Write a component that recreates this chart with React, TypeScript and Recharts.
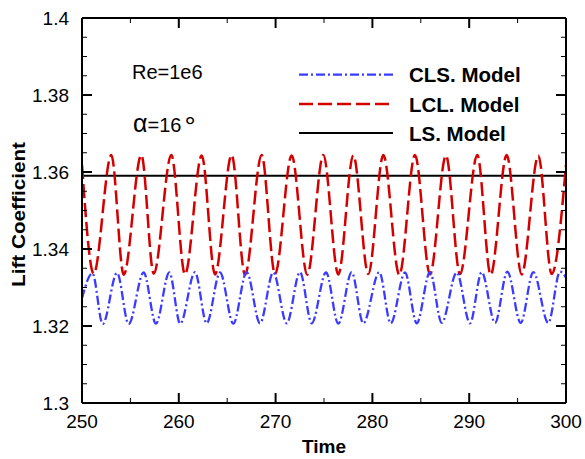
import React from 'react';
import { LineChart, Line, XAxis, YAxis } from 'recharts';

// ---- Data ----
const xTicks = [250, 255, 260, 265, 270, 275, 280, 285, 290, 295, 300];
const yTicks = [1.3, 1.305, 1.31, 1.315, 1.32, 1.325, 1.33, 1.335, 1.34, 1.345, 1.35, 1.355, 1.36, 1.365, 1.37, 1.375, 1.38, 1.385, 1.39, 1.395, 1.4];

// LCL model: start, alternating troughs/peaks, end
const lclTime = [250, 251.21, 253.03, 254.31, 256.13, 257.41, 259.23, 260.64, 262.37, 263.74, 265.46, 266.84, 268.56, 269.94, 271.66, 273.27, 274.93, 276.48, 278.03, 279.58, 281.13, 282.78, 284.4, 285.95, 287.6, 289.05, 290.84, 292.22, 293.87, 295.42, 297.14, 298.52, 300];
const lclValue = [1.3618, 1.3336, 1.3644, 1.3333, 1.3644, 1.3336, 1.3644, 1.3334, 1.3643, 1.3334, 1.3644, 1.3333, 1.3644, 1.3335, 1.3643, 1.3333, 1.3644, 1.3334, 1.3643, 1.3335, 1.3644, 1.3333, 1.3644, 1.3334, 1.3643, 1.3335, 1.3644, 1.3333, 1.3644, 1.3334, 1.3643, 1.3335, 1.3618];

// CLS model
const clsTime = [250, 251.08, 252.14, 253.62, 254.82, 256.37, 257.64, 259.02, 260.15, 261.67, 262.88, 264.26, 265.63, 267.01, 268.39, 269.76, 271.15, 272.52, 273.73, 275.21, 276.48, 277.86, 279.06, 280.71, 281.89, 283.37, 284.58, 285.95, 287.16, 288.71, 290.08, 291.29, 292.67, 293.94, 295.32, 296.62, 298.17, 299.38, 300];
const clsValue = [1.3272, 1.3337, 1.3205, 1.3338, 1.3205, 1.3339, 1.3206, 1.3339, 1.3206, 1.334, 1.3207, 1.3339, 1.3206, 1.334, 1.3207, 1.3339, 1.3207, 1.334, 1.3207, 1.3339, 1.3206, 1.334, 1.3207, 1.334, 1.3207, 1.3339, 1.3207, 1.334, 1.3208, 1.3339, 1.3207, 1.334, 1.3208, 1.3341, 1.3208, 1.334, 1.3208, 1.3341, 1.3326];

// LS model
const lsTime = [250, 300];
const lsValue = [1.359, 1.359];

const legendNames = ['CLS. Model', 'LCL. Model', 'LS. Model'];
const seriesColors = ['#3b3bff', '#d40000', '#000000'];
const seriesDash = ['9 3 2 3', '14 5', undefined];

const zip = (ts: number[], vs: number[]) => ts.map((t, i) => ({ t, v: vs[i] }));
const lclData = zip(lclTime, lclValue);
const clsData = zip(clsTime, clsValue);
const lsData = zip(lsTime, lsValue);

const FONT = '"Liberation Sans", Arial, Helvetica, sans-serif';

const isMajorX = (v: number) => Math.round(v) % 10 === 0;
const isMajorY = (v: number) => Math.round(v * 1000) % 20 === 0;
const fmtY = (v: number) => String(Number(v.toFixed(2)));

const BottomTick = (p: any) => {
  const v = p.payload.value;
  const major = isMajorX(v);
  return (
    <g>
      <line x1={p.x} x2={p.x} y1={p.y} y2={p.y - (major ? 10 : 5)} stroke="#000" strokeWidth={major ? 2 : 1} />
      {major && (
        <text x={p.x} y={p.y + 25} textAnchor="middle" fontFamily={FONT} fontSize={19} fill="#000">{v}</text>
      )}
    </g>
  );
};
const TopTick = (p: any) => {
  const v = p.payload.value;
  const major = isMajorX(v);
  return <line x1={p.x} x2={p.x} y1={p.y} y2={p.y + (major ? 10 : 5)} stroke="#000" strokeWidth={major ? 2 : 1} />;
};
const LeftTick = (p: any) => {
  const v = p.payload.value;
  const major = isMajorY(v);
  return (
    <g>
      <line x1={p.x} x2={p.x + (major ? 10 : 5)} y1={p.y} y2={p.y} stroke="#000" strokeWidth={major ? 2 : 1} />
      {major && (
        <text x={p.x - 13} y={p.y + 7} textAnchor="end" fontFamily={FONT} fontSize={19} fill="#000">{fmtY(v)}</text>
      )}
    </g>
  );
};
const RightTick = (p: any) => {
  const v = p.payload.value;
  const major = isMajorY(v);
  return <line x1={p.x} x2={p.x - (major ? 10 : 5)} y1={p.y} y2={p.y} stroke="#000" strokeWidth={major ? 2 : 1} />;
};

const axisLine = { stroke: '#000', strokeWidth: 2 };

export default function App() {
  const legendY = [74.7, 104, 133];
  return (
    <div style={{ position: 'absolute', left: 0, top: 0, width: 585, height: 459, background: '#fff' }}>
      <LineChart width={585} height={459} margin={{ top: 8, right: 9, bottom: 26, left: 22 }}>
        <XAxis xAxisId="b" dataKey="t" type="number" domain={[250, 300]} ticks={xTicks} interval={0}
          orientation="bottom" height={30} tickSize={0} tickMargin={0} tickLine={false} axisLine={axisLine}
          tick={BottomTick} allowDataOverflow />
        <XAxis xAxisId="tp" dataKey="t" type="number" domain={[250, 300]} ticks={xTicks} interval={0}
          orientation="top" height={10} tickSize={0} tickMargin={0} tickLine={false} axisLine={axisLine}
          tick={TopTick} allowDataOverflow />
        <YAxis yAxisId="l" type="number" domain={[1.3, 1.4]} ticks={yTicks} interval={0}
          orientation="left" width={60} tickSize={0} tickMargin={0} tickLine={false} axisLine={axisLine}
          tick={LeftTick} allowDataOverflow />
        <YAxis yAxisId="r" type="number" domain={[1.3, 1.4]} ticks={yTicks} interval={0}
          orientation="right" width={10} tickSize={0} tickMargin={0} tickLine={false} axisLine={axisLine}
          tick={RightTick} allowDataOverflow />
        <Line xAxisId="b" yAxisId="l" data={lsData} dataKey="v" type="linear" stroke={seriesColors[2]}
          strokeWidth={2} dot={false} isAnimationActive={false} />
        <Line xAxisId="b" yAxisId="l" data={lclData} dataKey="v" type="monotone" stroke={seriesColors[1]}
          strokeWidth={2.5} strokeDasharray={seriesDash[1]} dot={false} isAnimationActive={false} />
        <Line xAxisId="b" yAxisId="l" data={clsData} dataKey="v" type="monotone" stroke={seriesColors[0]}
          strokeWidth={2.3} strokeDasharray={seriesDash[0]} dot={false} isAnimationActive={false} />

        {/* annotations */}
        <text x={132} y={79} fontFamily={FONT} fontSize={20} fill="#000">Re=1e6</text>
        <text x={133} y={131.7} fontFamily={FONT} fontSize={20} fill="#000">
          <tspan fontSize={25}>α</tspan>
          <tspan>=16</tspan>
          <tspan dx={3} dy={4} fontSize={28}>°</tspan>
        </text>

        {/* legend */}
        {legendNames.map((name, i) => (
          <g key={name}>
            <line x1={299} x2={393} y1={legendY[i]} y2={legendY[i]} stroke={seriesColors[i]}
              strokeWidth={i === 2 ? 2 : 2.3} strokeDasharray={seriesDash[i]} />
            <text x={409} y={legendY[i] + 7.5} fontFamily={FONT} fontSize={20.5} fontWeight="bold" fill="#000">{name}</text>
          </g>
        ))}

        {/* axis titles */}
        <text x={324} y={453.3} textAnchor="middle" fontFamily={FONT} fontSize={19} fontWeight="bold" fill="#000">Time</text>
        <text x={25} y={214.5} transform="rotate(-90, 25, 214.5)" textAnchor="middle" fontFamily={FONT}
          fontSize={19} fontWeight="bold" fill="#000" textLength={145} lengthAdjust="spacingAndGlyphs">Lift Coefficient</text>
      </LineChart>
    </div>
  );
}
